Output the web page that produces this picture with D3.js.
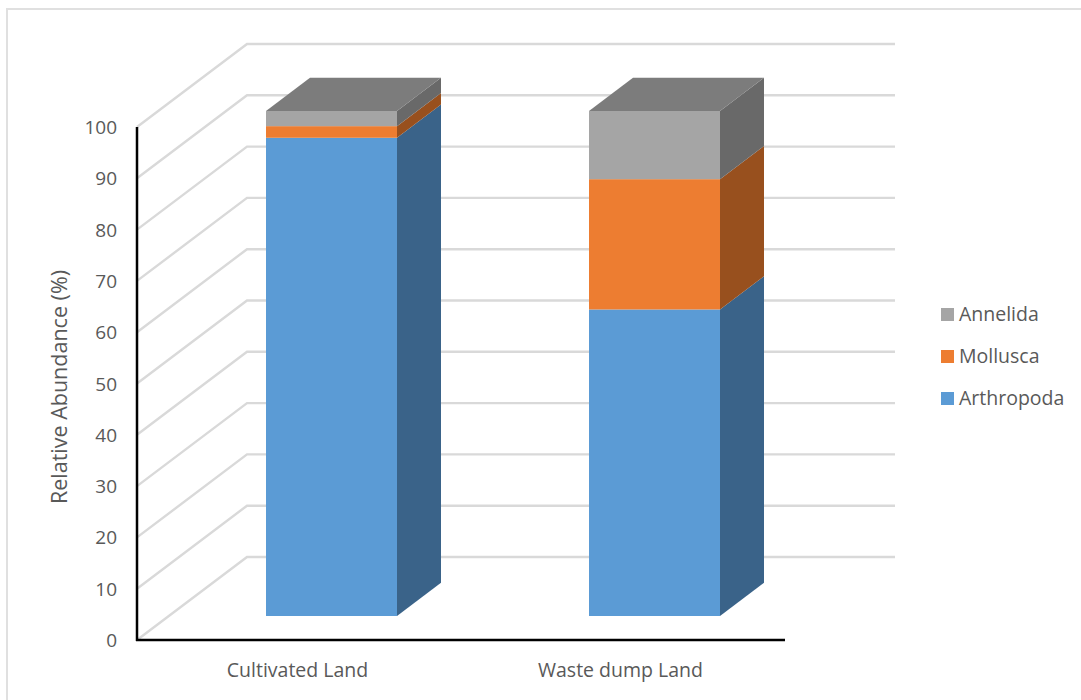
<!DOCTYPE html>
<html>
<head>
<meta charset="utf-8">
<script src="https://cdn.jsdelivr.net/npm/d3@7/dist/d3.min.js"></script>
<style>
html,body{margin:0;padding:0;background:#fff}
svg{display:block}
text{font-family:"Open Sans",Lato,sans-serif;fill:#595959}
</style>
</head>
<body>
<svg id="chart" width="1081" height="700"></svg>
<script>
const categories = ["Cultivated Land", "Waste dump Land"];
const seriesNames = ["Arthropoda", "Mollusca", "Annelida"];
const arthropoda = [94.7, 60.7];
const mollusca = [2.3, 25.8];
const annelida = [3.0, 13.5];
const yTicks = [0, 10, 20, 30, 40, 50, 60, 70, 80, 90, 100];
const faceColors = ["#5b9bd5", "#ed7d31", "#a5a5a5"];
const sideColors = ["#3a6389", "#98501e", "#696969"];
const topColor = "#7c7c7c";
const gridColor = "#d9d9d9";

const svg = d3.select("#chart");

// Oblique projection: a value and a depth (0 front, 1 back) map to the page.
const yFront = d3.scaleLinear().domain([0, 100]).range([640, 127]);
const depthX = d3.scaleLinear().domain([0, 1]).range([0, 110]);
const depthY = d3.scaleLinear().domain([0, 1]).range([0, -83]);
const project = (x, v, d) => [x + depthX(d), yFront(v) + depthY(d)];

// Bars sit between these depths, on a slightly smaller value scale.
const barNear = 0.289, barFar = 0.689;
const barY = d3.scaleLinear().domain([0, 100]).range([616, 111]);
const barX = d3.scaleBand().domain(categories).range([138, 784]);
const barW = 131;
const barLeft = c => Math.round(barX(c) + (barX.bandwidth() - barW) / 2 + depthX(barNear));
const barDx = depthX(barFar) - depthX(barNear);
const barDy = depthY(barFar) - depthY(barNear);

// Chart frame: only the top and left edges fall inside the page
svg.append("path").attr("fill", "none").attr("stroke", "#e0e0e0").attr("stroke-width", 2)
  .attr("d", d3.line()([[7, 700], [7, 9], [1081, 9]]));

// Side wall and back wall gridlines
const line = d3.line();
const grid = svg.append("g").attr("fill", "none").attr("stroke", gridColor).attr("stroke-width", 2.4);
yTicks.forEach(t => {
  grid.append("path").attr("d", line([project(137, t, 0), project(137, t, 1), [895, project(137, t, 1)[1]]]));
});

// Stacked prisms
const stacked = d3.stack().keys(seriesNames)(categories.map((c, i) => ({
  category: c, Arthropoda: arthropoda[i], Mollusca: mollusca[i], Annelida: annelida[i]
})));
stacked.forEach((layer, s) => {
  layer.forEach(seg => {
    const x0 = barLeft(seg.data.category), x1 = x0 + barW;
    const y0 = barY(seg[0]), y1 = barY(seg[1]);
    svg.append("path").attr("fill", sideColors[s])
      .attr("d", line([[x1, y0], [x1 + barDx, y0 + barDy], [x1 + barDx, y1 + barDy], [x1, y1]]) + "Z");
    svg.append("rect").attr("x", x0).attr("y", y1).attr("width", barW).attr("height", y0 - y1)
      .attr("fill", faceColors[s]);
    if (s === seriesNames.length - 1) {
      svg.append("path").attr("fill", topColor)
        .attr("d", line([[x0, y1], [x0 + barDx, y1 + barDy], [x1 + barDx, y1 + barDy], [x1, y1]]) + "Z");
    }
  });
});

// Axes
const axisLines = svg.append("g").attr("stroke", "#000").attr("stroke-width", 2.5).attr("fill", "none");
axisLines.append("line").attr("x1", 137).attr("x2", 137).attr("y1", yFront(100)).attr("y2", yFront(0) + 1);
axisLines.append("line").attr("x1", 136).attr("x2", 785).attr("y1", yFront(0)).attr("y2", yFront(0));

svg.append("g").selectAll("text").data(yTicks).join("text")
  .attr("x", 117).attr("y", d => yFront(d) + 7).attr("text-anchor", "end")
  .attr("font-size", 19).text(d => d);

svg.append("g").selectAll("text").data(categories).join("text")
  .attr("x", c => barX(c) + barX.bandwidth() / 2 - 2).attr("y", 677).attr("text-anchor", "middle")
  .attr("font-size", 19.5).text(c => c);

svg.append("text").attr("transform", "translate(67,387) rotate(-90)")
  .attr("text-anchor", "middle").attr("font-size", 21.5).text("Relative Abundance (%)");

// Legend lists the top of the stack first
const legendY = d3.scalePoint().domain(seriesNames.slice().reverse()).range([314, 398]);
const legend = svg.append("g").selectAll("g").data(seriesNames).join("g")
  .attr("transform", d => `translate(941,${legendY(d)})`);
legend.append("rect").attr("y", -6).attr("width", 13).attr("height", 13)
  .attr("fill", (d, i) => faceColors[i]);
legend.append("text").attr("x", 18).attr("y", 7).attr("font-size", 19.5).text(d => d);
</script>
</body>
</html>
